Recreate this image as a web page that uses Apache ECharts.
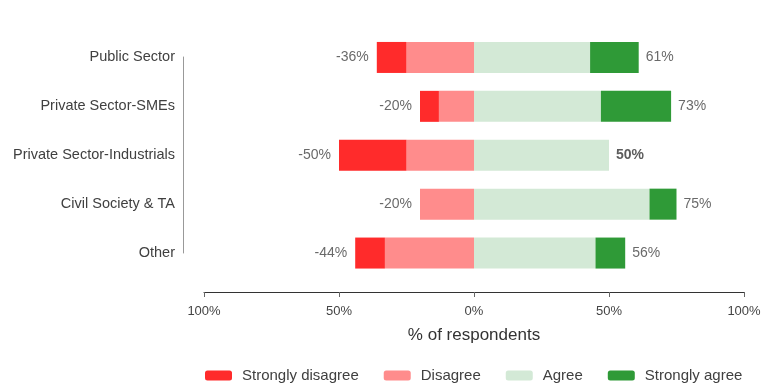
<!DOCTYPE html>
<html><head><meta charset="utf-8">
<script src="https://cdn.jsdelivr.net/npm/echarts@6/dist/echarts.min.js"></script>
<style>html,body{margin:0;padding:0;background:#fff}#c{width:765px;height:387px}</style>
</head><body><div id="c"></div>
<script>
var categories = ['Public Sector','Private Sector-SMEs','Private Sector-Industrials','Civil Society & TA','Other'];
var stronglyDisagree = [11, 7, 25, 0, 11];
var disagree = [25, 13, 25, 20, 33];
var agree = [43, 47, 50, 65, 45];
var stronglyAgree = [18, 26, 0, 10, 11];
var tickLabels = {'-100':'100%','-50':'50%','0':'0%','50':'50%','100':'100%'};
var seriesNames = ['Strongly disagree','Disagree','Agree','Strongly agree'];
var colors = {'Strongly disagree':'#ff2b2b','Disagree':'#ff8c8c','Agree':'#d3e9d6','Strongly agree':'#2f9a37'};

var negTotals = categories.map(function(c,i){return -(stronglyDisagree[i]+disagree[i]);});
var posTotals = categories.map(function(c,i){return agree[i]+stronglyAgree[i];});
var FONT = '"Liberation Sans", Arial, sans-serif';

function bar(name, vals, sign){
  return {name:name, type:'bar', stack:'total', xAxisIndex:0, yAxisIndex:0, barWidth:31,
    itemStyle:{color:colors[name]}, emphasis:{disabled:true},
    data: vals.map(function(v){return sign*v;})};
}
var chart = echarts.init(document.getElementById('c'), null, {renderer:'canvas'});
chart.setOption({
  animation:false,
  textStyle:{fontFamily:FONT},
  grid:[
    {left:204, right:21, top:33, height:244.5},
    {left:183, width:1, top:57, height:196}
  ],
  xAxis:[
    {type:'value', gridIndex:0, min:-100, max:100, interval:50, offset:14.5,
     axisLine:{show:true, lineStyle:{color:'#333', width:1}},
     axisTick:{show:true, length:5, lineStyle:{color:'#666'}},
     splitLine:{show:false},
     axisLabel:{color:'#444', fontSize:13, margin:13, fontFamily:FONT, formatter:function(v){return tickLabels[String(v)];}},
     name:'% of respondents', nameLocation:'middle', nameGap:35,
     nameTextStyle:{color:'#333', fontSize:17, fontFamily:FONT}},
    {type:'value', gridIndex:1, show:false, min:0, max:1}
  ],
  yAxis:[
    {type:'category', gridIndex:0, data:categories, inverse:true,
     axisLine:{show:false}, axisTick:{show:false},
     axisLabel:{color:'#404040', fontSize:14.5, margin:29, fontFamily:FONT}},
    {type:'value', gridIndex:1, min:0, max:1,
     axisLine:{show:true, lineStyle:{color:'#999'}}, axisTick:{show:false},
     axisLabel:{show:false}, splitLine:{show:false}}
  ],
  legend:{data:seriesNames, left:205, top:368, padding:0, itemWidth:27, itemHeight:10, itemGap:25,
    textStyle:{color:'#404040', fontSize:15, fontFamily:FONT, padding:[0,0,0,5]}, selectedMode:false},
  series:[
    bar('Disagree', disagree, -1),
    bar('Strongly disagree', stronglyDisagree, -1),
    bar('Agree', agree, 1),
    bar('Strongly agree', stronglyAgree, 1),
    {name:'negTotal', type:'scatter', symbolSize:0, xAxisIndex:0, yAxisIndex:0,
     data: negTotals.map(function(v,i){return [v, categories[i]];}),
     label:{show:true, position:'left', distance:8, color:'#444', fontSize:14, fontFamily:FONT,
       formatter:function(p){return p.value[0]+'%';}}},
    {name:'posTotal', type:'scatter', symbolSize:0, xAxisIndex:0, yAxisIndex:0,
     data: posTotals.map(function(v,i){return {value:[v, categories[i]],
        label: stronglyAgree[i]===0 ? {fontWeight:'bold', color:'#333'} : undefined};}),
     label:{show:true, position:'right', distance:7, color:'#444', fontSize:14, fontFamily:FONT,
       formatter:function(p){return p.value[0]+'%';}}}
  ]
});
</script>
</body></html>
